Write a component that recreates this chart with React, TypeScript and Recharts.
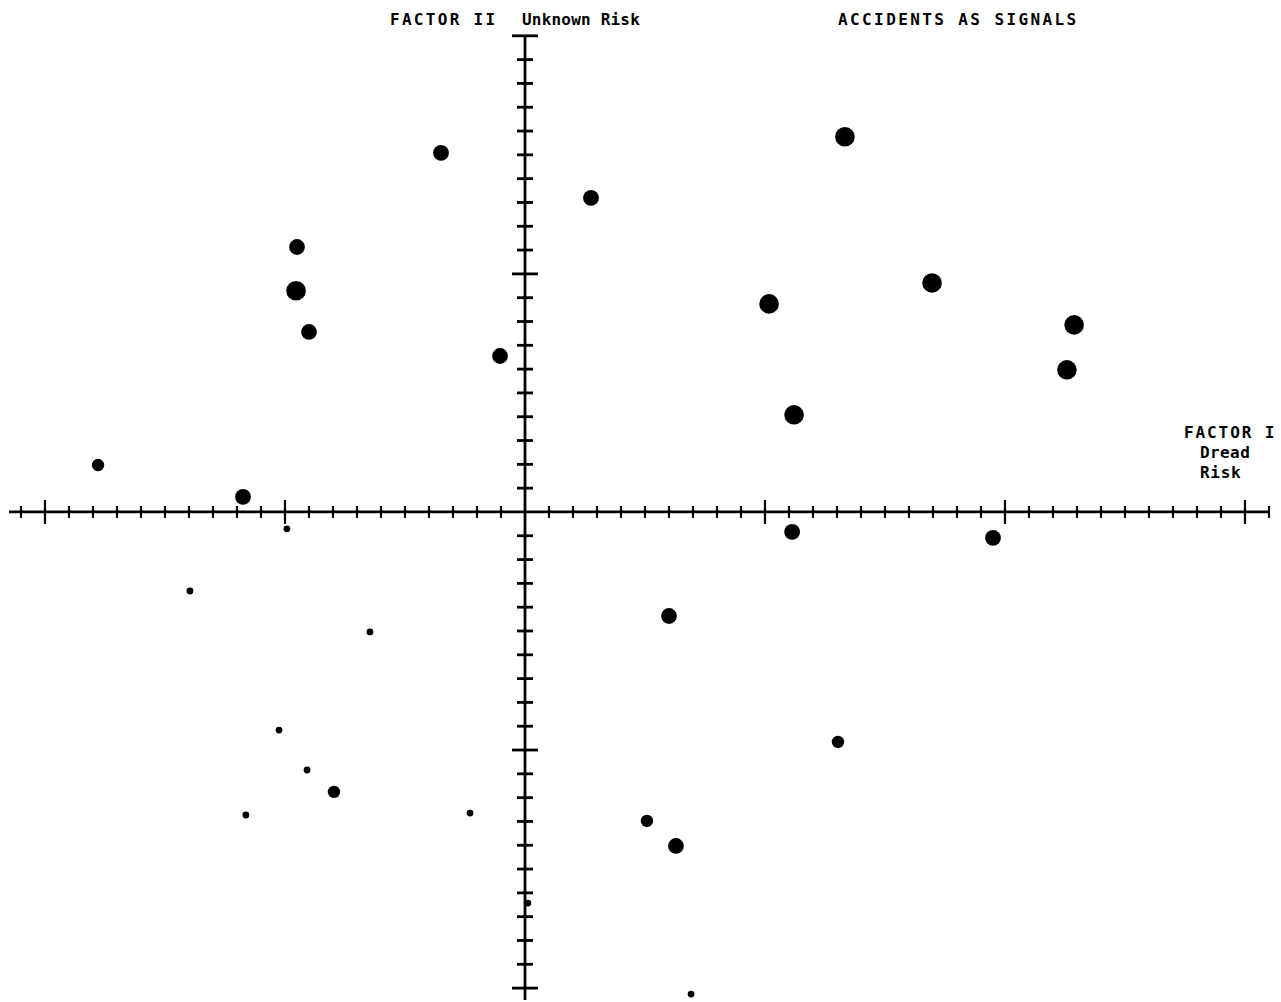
import { ReferenceLine, Scatter, ScatterChart, XAxis, YAxis } from 'recharts';

interface Hazard {
  x: number; // Factor I: dread risk
  y: number; // Factor II: unknown risk
}

// hazards grouped by how big the dot is (signal potential)
const largeDots: Hazard[] = [
  { x: 1.333, y: 1.576 },
  { x: -0.954, y: 0.929 },
  { x: 1.017, y: 0.874 },
  { x: 1.696, y: 0.962 },
  { x: 2.288, y: 0.786 },
  { x: 2.258, y: 0.597 },
  { x: 1.121, y: 0.408 },
];

const mediumDots: Hazard[] = [
  { x: -0.35, y: 1.508 },
  { x: 0.275, y: 1.319 },
  { x: -0.95, y: 1.113 },
  { x: -0.9, y: 0.756 },
  { x: -0.104, y: 0.655 },
  { x: -1.175, y: 0.063 },
  { x: 1.113, y: -0.084 },
  { x: 1.95, y: -0.109 },
  { x: 0.6, y: -0.437 },
  { x: 0.629, y: -1.403 },
];

const smallDots: Hazard[] = [
  { x: -1.779, y: 0.197 },
  { x: -0.796, y: -1.176 },
  { x: 0.508, y: -1.298 },
  { x: 1.304, y: -0.966 },
];

const tinyDots: Hazard[] = [
  { x: -0.992, y: -0.071 },
  { x: -1.396, y: -0.332 },
  { x: -0.646, y: -0.504 },
  { x: -1.025, y: -0.916 },
  { x: -0.908, y: -1.084 },
  { x: -1.163, y: -1.273 },
  { x: -0.229, y: -1.265 },
  { x: 0.692, y: -2.025 },
  { x: 0.012, y: -1.643 },
];

const xTicks = [
  -2.1, -2.0, -1.9, -1.8, -1.7, -1.6, -1.5, -1.4, -1.3, -1.2, -1.1, -1.0, -0.9, -0.8, -0.7, -0.6, -0.5, -0.4,
  -0.3, -0.2, -0.1, 0.1, 0.2, 0.3, 0.4, 0.5, 0.6, 0.7, 0.8, 0.9, 1.0, 1.1, 1.2, 1.3, 1.4, 1.5, 1.6, 1.7, 1.8,
  1.9, 2.0, 2.1, 2.2, 2.3, 2.4, 2.5, 2.6, 2.7, 2.8, 2.9, 3.0, 3.1,
];
const xMajor = [-2, -1, 1, 2, 3];

const yTicks = [
  -2.0, -1.9, -1.8, -1.7, -1.6, -1.5, -1.4, -1.3, -1.2, -1.1, -1.0, -0.9, -0.8, -0.7, -0.6, -0.5, -0.4, -0.3,
  -0.2, -0.1, 0.1, 0.2, 0.3, 0.4, 0.5, 0.6, 0.7, 0.8, 0.9, 1.0, 1.1, 1.2, 1.3, 1.4, 1.5, 1.6, 1.7, 1.8, 1.9,
  2.0,
];
const yMajor = [-2, -1, 1, 2];

const W = 1281;
const H = 1002;
const margin = { top: 12, right: 0, bottom: 2, left: 9 };
const xDomain: [number, number] = [-2.15, 3.15];
const yDomain: [number, number] = [-2.05, 2.1];

const pxX = (W - margin.left - margin.right) / (xDomain[1] - xDomain[0]);
const pxY = (H - margin.top - margin.bottom) / (yDomain[1] - yDomain[0]);

const dot = (r: number) => (props: any) => <circle cx={props.cx} cy={props.cy} r={r} fill="#000" />;

const mono = '"DejaVu Sans Mono", "Liberation Mono", monospace';

export default function App() {
  return (
    <div style={{ position: 'absolute', left: 0, top: 0, width: W, height: H, background: '#fff' }}>
      <ScatterChart width={W} height={H} margin={margin}>
        <XAxis type="number" dataKey="x" domain={xDomain} hide allowDataOverflow />
        <YAxis type="number" dataKey="y" domain={yDomain} hide allowDataOverflow />

        <ReferenceLine
          segment={[{ x: xDomain[0], y: 0 }, { x: 3.1, y: 0 }]}
          stroke="#000"
          strokeWidth={2.8}
          ifOverflow="visible"
        />
        <ReferenceLine
          segment={[{ x: 0, y: yDomain[0] }, { x: 0, y: 2.0 }]}
          stroke="#000"
          strokeWidth={2.8}
          ifOverflow="visible"
        />

        {xTicks.map((t) => {
          const h = (xMajor.includes(t) ? 12 : 6) / pxY;
          return (
            <ReferenceLine
              key={`xt${t}`}
              segment={[{ x: t, y: -h }, { x: t, y: h }]}
              stroke="#000"
              strokeWidth={2.2}
              ifOverflow="visible"
            />
          );
        })}
        {yTicks.map((t) => {
          const w = (yMajor.includes(t) ? 13 : 8) / pxX;
          return (
            <ReferenceLine
              key={`yt${t}`}
              segment={[{ x: -w, y: t }, { x: w, y: t }]}
              stroke="#000"
              strokeWidth={2.8}
              ifOverflow="visible"
            />
          );
        })}

        <Scatter data={largeDots} shape={dot(9.8)} isAnimationActive={false} />
        <Scatter data={mediumDots} shape={dot(7.9)} isAnimationActive={false} />
        <Scatter data={smallDots} shape={dot(6.2)} isAnimationActive={false} />
        <Scatter data={tinyDots} shape={dot(3.4)} isAnimationActive={false} />
      </ScatterChart>

      <svg
        width={W}
        height={H}
        style={{ position: 'absolute', left: 0, top: 0, pointerEvents: 'none' }}
        fontFamily={mono}
        fontWeight="bold"
        fontSize={16}
        fill="#000"
      >
        <text x={390} y={25} letterSpacing={2.3}>FACTOR II</text>
        <text x={522} y={25} letterSpacing={0.2}>Unknown Risk</text>
        <text x={838} y={25} letterSpacing={2.4}>ACCIDENTS AS SIGNALS</text>
        <text x={1184} y={438} letterSpacing={1.9}>FACTOR I</text>
        <text x={1200} y={458} letterSpacing={0.4}>Dread</text>
        <text x={1200} y={478} letterSpacing={0.7}>Risk</text>
      </svg>
    </div>
  );
}
